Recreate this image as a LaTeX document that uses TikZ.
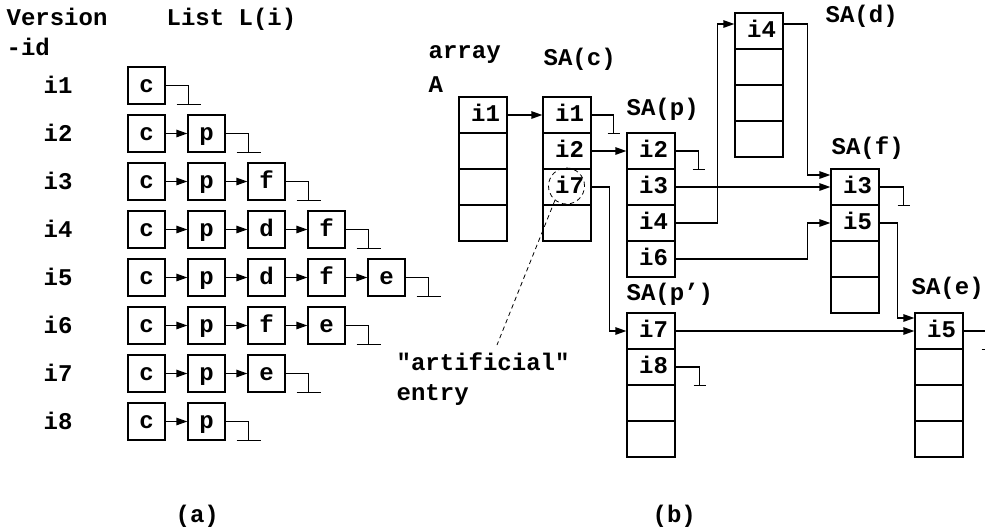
\documentclass[tikz,border=0pt]{standalone}
\usepackage{fontspec}
\setmainfont{Liberation Mono}[Ligatures=TeXOff]
\usetikzlibrary{arrows.meta,calc}
\newcommand{\groundterm}[3]{%
  \draw (#1.east) -- ++(#2,0) coordinate (gt) -- (gt |- #1.south) coordinate (gb);
  \draw ([xshift=-#3pt]gb) -- ([xshift=#3pt]gb);
}
\begin{document}
\begin{tikzpicture}[x=1pt,y=-1pt, line width=1.3pt,
  every node/.style={font=\fontsize{24}{28}\selectfont\bfseries},
  lbox/.style={draw, minimum width=37pt, minimum height=37pt, inner sep=0pt,
    text height=25.5pt, text depth=11.5pt},
  cell/.style={draw, minimum width=48pt, minimum height=36pt, inner sep=0pt,
    text height=24pt, text depth=12pt, execute at begin node={\hspace*{5pt}}},
  arr/.style={-{Triangle[length=11pt,width=7.5pt]}},
  txt/.style={anchor=base west, inner sep=0pt},
  thindash/.style={line width=0.8pt, dash pattern=on 4.5pt off 3.5pt}]
\useasboundingbox (0,0) rectangle (985,531);

% ---------- (a) lists ----------
\node[txt] (ver) at (6,25) {Version};
\node[txt] (vid) at (6,55) {-id};
\node[txt] (lst) at (166,25) {List L(i)};

\foreach \items/\n [count=\r] in {{c}/1,{c,p}/2,{c,p,f}/3,{c,p,d,f}/4,{c,p,d,f,e}/5,{c,p,f,e}/4,{c,p,e}/3,{c,p}/2} {
  \node[txt] (lab\r) at (43,{93+48*(\r-1)}) {i\r};
  \foreach \it [count=\k] in \items {
    \node[lbox] (L\r-\k) at ({146.5+60*(\k-1)},{85.5+48*(\r-1)}) {\it};
    \ifnum\k>1
      \pgfmathtruncatemacro\prev{\k-1}
      \draw[arr] (L\r-\prev.east) -- (L\r-\k.west);
    \fi
  }
  \groundterm{L\r-\n}{23}{12}
}

% ---------- (b) arrays ----------
\node[txt] (arrw) at (428,58) {array};
\node[txt] (arrA) at (428,92) {A};
\node[txt] (lSAc) at (543,65.5) {SA(c)};
\node[txt] (lSAp) at (626,115) {SA(p)};
\node[txt] (lSAd) at (825,22.5) {SA(d)};
\node[txt] (lSAf) at (831,154.5) {SA(f)};
\node[txt] (lSApp) at (626,300) {SA(p’)};
\node[txt] (lSAe) at (911,294.5) {SA(e)};

% array A
\node[cell] (A1) at (483,115) {i1};
\node[cell] (A2) at (483,151) {};
\node[cell] (A3) at (483,187) {};
\node[cell] (A4) at (483,223) {};
% SA(c)
\node[cell] (C1) at (567,115) {i1};
\node[cell] (C2) at (567,151) {i2};
\node[cell] (C3) at (567,187) {i7};
\node[cell] (C4) at (567,223) {};
% SA(p)
\node[cell] (P1) at (651,151) {i2};
\node[cell] (P2) at (651,187) {i3};
\node[cell] (P3) at (651,223) {i4};
\node[cell] (P4) at (651,259) {i6};
% SA(d)
\node[cell] (D1) at (759,31) {i4};
\node[cell] (D2) at (759,67) {};
\node[cell] (D3) at (759,103) {};
\node[cell] (D4) at (759,139) {};
% SA(f)
\node[cell] (F1) at (855,187) {i3};
\node[cell] (F2) at (855,223) {i5};
\node[cell] (F3) at (855,259) {};
\node[cell] (F4) at (855,295) {};
% SA(p')
\node[cell] (Q1) at (651,331) {i7};
\node[cell] (Q2) at (651,367) {i8};
\node[cell] (Q3) at (651,403) {};
\node[cell] (Q4) at (651,439) {};
% SA(e)
\node[cell] (E1) at (939,331) {i5};
\node[cell] (E2) at (939,367) {};
\node[cell] (E3) at (939,403) {};
\node[cell] (E4) at (939,439) {};

% connectors
\draw[arr] (A1.east) -- (C1.west);
\draw[arr] (C2.east) -- (P1.west);
\draw[arr] (C3.east) -- ++(18,0) |- (Q1.west);
\draw[arr] (P2.east) -- (F1.west);
\draw[arr] (P3.east) -- ++(42,0) |- ([yshift=7pt]D1.west);
\draw[arr] ([yshift=7pt]D1.east) -- ++(24,0) |- ([yshift=12pt]F1.west);
\draw[arr] (P4.east) -- ++(132,0) |- (F2.west);
\draw[arr] (F2.east) -- ++(18,0) |- ([yshift=13pt]E1.west);
\draw[arr] (Q1.east) -- (E1.west);

\groundterm{C1}{22}{6}
\groundterm{P1}{23}{6}
\groundterm{F1}{24}{6}
\groundterm{Q2}{24}{6}
\groundterm{E1}{24}{6}

% artificial entry
\node[draw, circle, thindash, minimum size=36pt, inner sep=0pt] (circ) at (566.5,186) {};
\coordinate (artend) at (497,345);
\draw[thindash] (circ.231) -- (artend);
\node[txt] (art) at (396,370) {"artificial"};
\node[txt] (ent) at (396,400) {entry};

% captions
\node[txt] (capa) at (175,522) {(a)};
\node[txt] (capb) at (652,522) {(b)};
\end{tikzpicture}
\end{document}
